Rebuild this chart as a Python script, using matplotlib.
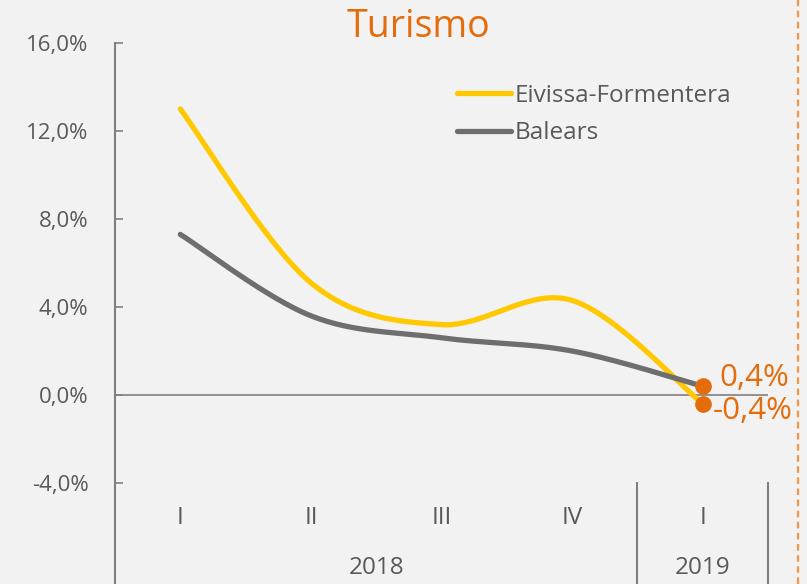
import numpy as np
import matplotlib
matplotlib.use("Agg")
import matplotlib.pyplot as plt
from matplotlib.lines import Line2D

plt.rcParams['font.family'] = ['Open Sans', 'DejaVu Sans']
plt.rcParams['font.weight'] = 'medium'

quarters = ["I", "II", "III", "IV", "I"]
years = ["2018", "2019"]
year_spans = [(0, 3), (4, 4)]
eivissa = [13.0, 5.1, 3.2, 4.3, -0.4]
balears = [7.3, 3.6, 2.6, 2.0, 0.4]
yticks = [-4, 0, 4, 8, 12, 16]
ytick_labels = ["-4,0%", "0,0%", "4,0%", "8,0%", "12,0%", "16,0%"]
final_labels = ["-0,4%", "0,4%"]

ORANGE = "#E46C0A"
YELLOW = "#FFC800"
GREY = "#6E6E6E"
TEXT = "#595959"
AXIS = "#808080"
BG = "#F2F2F2"


def smooth(xs, ys, n=40):
    pts = np.column_stack([xs, ys]).astype(float)
    P = np.vstack([pts[0], pts, pts[-1]])
    out = []
    for i in range(1, len(P) - 2):
        p0, p1, p2, p3 = P[i - 1], P[i], P[i + 1], P[i + 2]
        c1 = p1 + (p2 - p0) / 6.0
        c2 = p2 - (p3 - p1) / 6.0
        t = np.linspace(0, 1, n)[:, None]
        seg = ((1 - t) ** 3) * p1 + 3 * ((1 - t) ** 2) * t * c1 + 3 * (1 - t) * t ** 2 * c2 + t ** 3 * p2
        out.append(seg if i == 1 else seg[1:])
    s = np.vstack(out)
    return s[:, 0], s[:, 1]


W, H = 807, 584
fig = plt.figure(figsize=(W / 100, H / 100), dpi=100, facecolor=BG)
ax = fig.add_axes([115 / W, (H - 483) / H, (768 - 115) / W, (483 - 43) / H])
ax.set_facecolor(BG)

x = np.arange(len(quarters))
ex, ey = smooth(x, eivissa)
bx, by = smooth(x, balears)
ax.plot(ex, ey, color=YELLOW, lw=3.8, solid_capstyle='round', label="Eivissa-Formentera", zorder=3)
ax.plot(bx, by, color=GREY, lw=3.8, solid_capstyle='round', label="Balears", zorder=3)

ax.plot([x[-1]], [eivissa[-1]], 'o', color=ORANGE, ms=11, zorder=5)
ax.plot([x[-1]], [balears[-1]], 'o', color=ORANGE, ms=11, zorder=5)
ax.annotate(final_labels[1], (x[-1], balears[-1]), xytext=(12, 6), textcoords='offset points',
            color=ORANGE, fontsize=22.5, va='center', ha='left')
ax.annotate(final_labels[0], (x[-1], eivissa[-1]), xytext=(7, -5), textcoords='offset points',
            color=ORANGE, fontsize=22.5, va='center', ha='left')

ax.set_xlim(-0.5, len(quarters) - 0.5)
ax.set_ylim(-4, 16)
ax.axhline(0, color=AXIS, lw=1.2, zorder=2)

for s in ["top", "right", "bottom", "left"]:
    ax.spines[s].set_visible(False)
ax.set_yticks(yticks)
ax.set_yticklabels(ytick_labels)
ax.tick_params(axis='y', direction='in', length=6, width=1.2, color=AXIS, labelcolor=TEXT,
               labelsize=16, pad=19)
ax.set_xticks([])

ybot = (483 - 584) / (483 - 43)
ax.add_line(Line2D([0, 0], [1, ybot], transform=ax.transAxes, color=AXIS, lw=1.5, clip_on=False))
nq = len(quarters)
ax.add_line(Line2D([4 / nq, 4 / nq], [0, ybot], transform=ax.transAxes, color=AXIS, lw=1.5, clip_on=False))
ax.add_line(Line2D([1, 1], [0, ybot], transform=ax.transAxes, color=AXIS, lw=1.5, clip_on=False))

tr = ax.get_xaxis_transform()
for i, q in enumerate(quarters):
    ax.text(i, (483 - 518) / 440, q, transform=tr, ha='center', va='center', color=TEXT, fontsize=17.5)
for yl, (a, b) in zip(years, year_spans):
    ax.text((a + b) / 2, (483 - 568) / 440, yl, transform=tr, ha='center', va='center', color=TEXT, fontsize=17.5)

leg = ax.legend(loc='upper left', bbox_to_anchor=((447 - 115) / 653, (483 - 74) / 440), frameon=False,
                fontsize=17.5, handlelength=2.25, handletextpad=0.15, labelspacing=0.55, borderaxespad=0)
for t in leg.get_texts():
    t.set_color(TEXT)

fig.text(418 / W, 1 - 27 / H, "Turismo", ha='center', va='center', color=ORANGE, fontsize=27)
fig.add_artist(Line2D([798 / W, 798 / W], [0, 1], transform=fig.transFigure, color="#F79646",
                      lw=1.6, ls=(0, (3, 2))))

fig.savefig("out.png", dpi=100, facecolor=BG)
